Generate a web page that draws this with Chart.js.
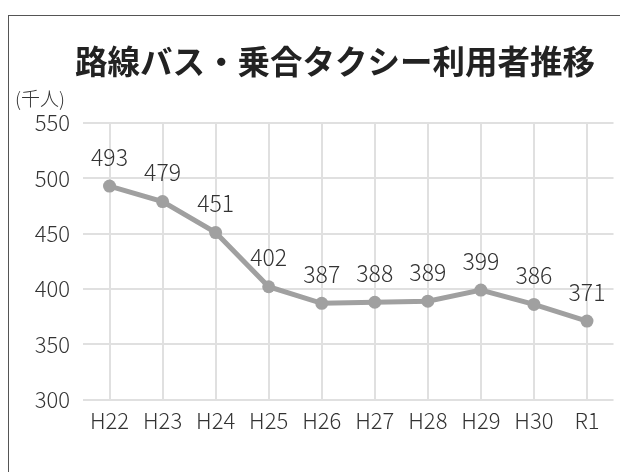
<!DOCTYPE html>
<html>
<head>
<meta charset="utf-8">
<script src="https://cdn.jsdelivr.net/npm/chart.js@4.4.1/dist/chart.umd.min.js"></script>
<style>
  body { margin: 0; background: #fff; overflow: hidden; }
  #frame {
    position: absolute; left: 8px; top: 15px; width: 700px; height: 520px;
    border-left: 1.5px solid #555; border-top: 1.5px solid #555;
  }
  #wrap { position: absolute; left: 0; top: 0; width: 620px; height: 472px; }
</style>
</head>
<body>
<div id="frame"></div>
<div id="wrap"><canvas id="chart" width="620" height="472"></canvas></div>
<script>
// values
const years = ['H22', 'H23', 'H24', 'H25', 'H26', 'H27', 'H28', 'H29', 'H30', 'R1'];
const riders = [493, 479, 451, 402, 387, 388, 389, 399, 386, 371];
const yTicks = [300, 350, 400, 450, 500, 550];
const unitLabel = '(千人)';

const FONT = '"Noto Sans CJK JP", "Noto Sans", sans-serif';

// number above each point, plus the unit text over the y axis
const pointLabels = {
  id: 'pointLabels',
  afterLayout(chart) {
    // title in the original sits a bit right of the canvas centre
    if (chart.titleBlock) chart.titleBlock.left = 54;
  },
  afterDatasetsDraw(chart) {
    const ctx = chart.ctx;
    const meta = chart.getDatasetMeta(0);
    ctx.save();
    ctx.font = '300 23px ' + FONT;
    ctx.fillStyle = '#333';
    ctx.textAlign = 'center';
    ctx.textBaseline = 'middle';
    meta.data.forEach((pt, i) => {
      ctx.fillText(String(riders[i]), pt.x, pt.y - 29);
    });
    ctx.font = '300 19px ' + FONT;
    ctx.textAlign = 'left';
    ctx.fillText(unitLabel, 15, chart.chartArea.top - 24);
    ctx.restore();
  }
};

new Chart(document.getElementById('chart'), {
  type: 'line',
  data: {
    labels: years,
    datasets: [{
      data: riders,
      borderColor: '#a0a0a0',
      backgroundColor: '#a0a0a0',
      borderWidth: 5,
      pointRadius: 6.5,
      pointBackgroundColor: '#a0a0a0',
      pointBorderWidth: 0,
      tension: 0,
    }],
  },
  options: {
    responsive: false,
    animation: false,
    layout: { padding: { left: 12, right: 4, top: 42, bottom: 30 } },
    plugins: {
      legend: { display: false },
      tooltip: { enabled: false },
      title: {
        display: true,
        text: '路線バス・乗合タクシー利用者推移',
        color: '#222',
        font: { family: FONT, size: 32.5, weight: 'bold' },
        padding: { top: 0, bottom: 42 },
      },
    },
    scales: {
      x: {
        offset: true,
        grid: { color: '#e0e0e0', lineWidth: 2, offset: false, drawTicks: false },
        border: { display: false },
        ticks: { color: '#333', font: { family: FONT, size: 22, weight: 300 }, padding: 8 },
      },
      y: {
        min: yTicks[0],
        max: yTicks[yTicks.length - 1],
        afterBuildTicks(axis) { axis.ticks = yTicks.map(v => ({ value: v })); },
        afterFit(axis) { axis.width = 71; },
        grid: { color: '#e0e0e0', lineWidth: 2, drawTicks: false },
        border: { display: false },
        ticks: { color: '#333', font: { family: FONT, size: 22, weight: 300 }, padding: 13 },
      },
    },
  },
  plugins: [pointLabels],
});
</script>
</body>
</html>
